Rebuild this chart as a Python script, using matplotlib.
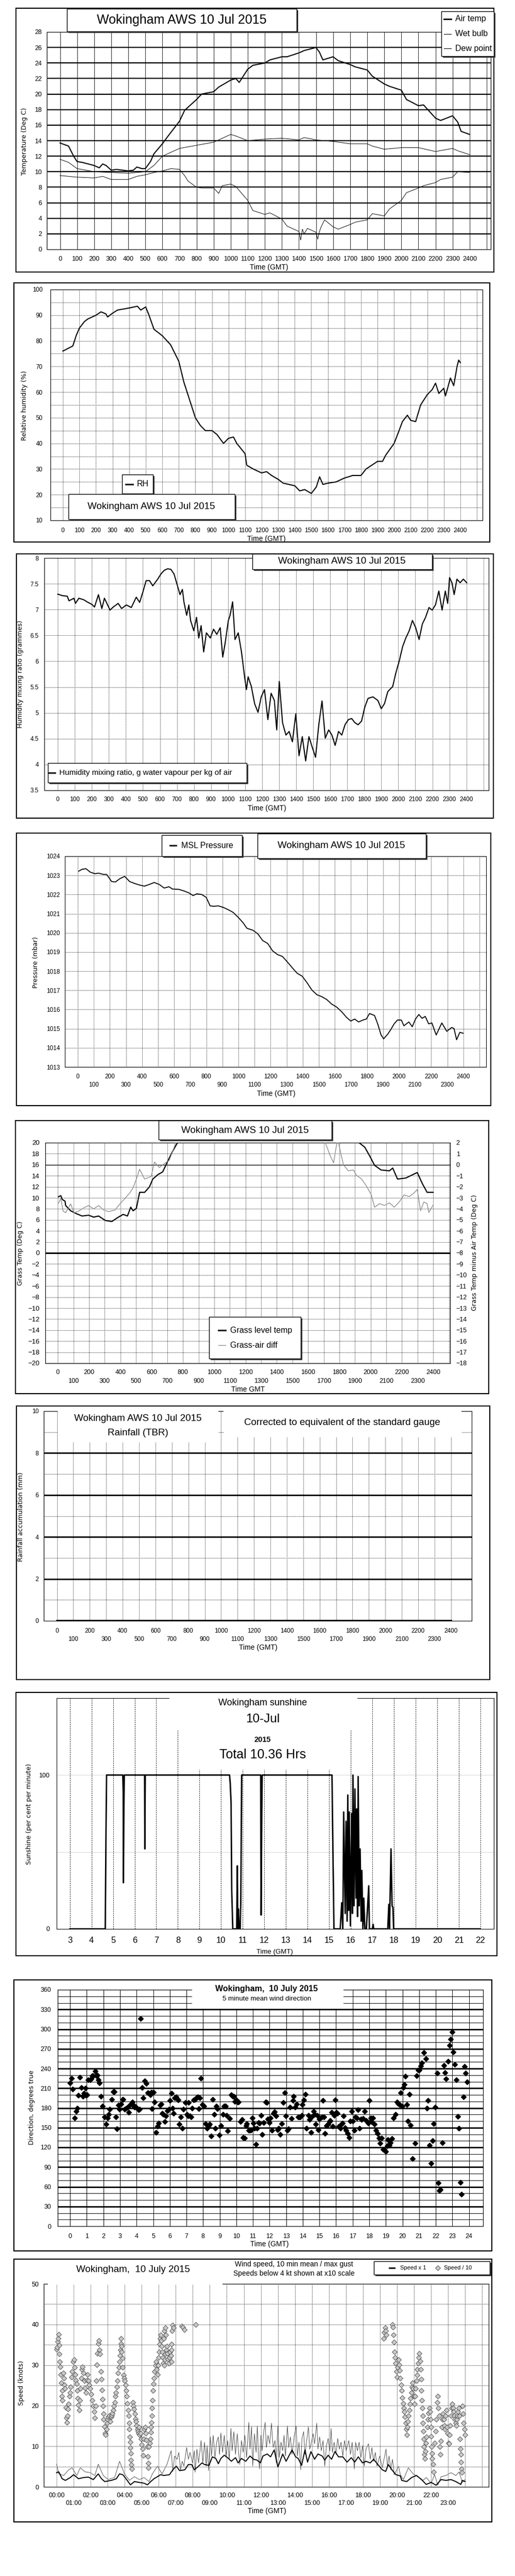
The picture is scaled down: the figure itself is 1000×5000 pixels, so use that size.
import numpy as np
import matplotlib
matplotlib.use("Agg")
import matplotlib.pyplot as plt
from matplotlib.patches import Rectangle
from matplotlib.lines import Line2D

plt.rcParams["font.family"] = ["Liberation Sans", "DejaVu Sans"]
plt.rcParams["font.size"] = 9
LABEL_FONT = "DejaVu Sans"
nan = float("nan")

# ---------------------------------------------------------------- data
# panel 1: temperatures (time axis is hhmm-style 0..2400)
air_t = [0, 50, 80, 100, 130, 200, 230, 250, 270, 300, 330, 400, 430, 450, 480, 500, 530, 550, 600, 630,
         700, 730, 800, 830, 900, 930, 1000, 1030, 1050, 1100, 1130, 1200, 1230, 1300, 1330, 1400, 1430,
         1500, 1520, 1540, 1600, 1630, 1700, 1730, 1800, 1830, 1900, 1930, 2000, 2030, 2100, 2130, 2200,
         2230, 2300, 2330, 2350, 2400]
air_temp = [13.7, 13.3, 12.0, 11.3, 11.2, 10.8, 10.5, 11.0, 10.8, 10.2, 10.3, 10.1, 10.2, 10.6, 10.4, 10.4,
            11.3, 12.3, 13.6, 14.5, 16.5, 17.9, 19.3, 20.0, 20.3, 20.9, 21.8, 22.0, 21.5, 23.2, 23.7, 24.0,
            24.4, 24.8, 24.8, 25.3, 25.6, 26.0, 25.4, 24.4, 24.8, 24.3, 23.8, 23.5, 23.1, 22.3, 21.3, 21.0,
            20.5, 19.3, 18.5, 18.6, 16.9, 16.6, 17.2, 16.4, 15.2, 14.8]
wet_t = [0, 50, 100, 200, 300, 400, 500, 550, 600, 700, 800, 900, 1000, 1030, 1100, 1200, 1300, 1400,
         1430, 1500, 1600, 1700, 1800, 1830, 1900, 2000, 2100, 2200, 2300, 2330, 2400]
wet_bulb = [11.6, 11.2, 10.4, 10.0, 9.9, 9.8, 10.0, 10.8, 12.0, 13.0, 13.4, 13.8, 14.8, 14.6, 14.0, 14.2,
            14.3, 14.1, 14.4, 14.1, 13.9, 13.6, 13.6, 13.3, 12.9, 13.1, 13.1, 12.6, 13.0, 12.7, 12.2]
dew_pts = [(0, 9.5), (100, 9.3), (200, 9.2), (250, 9.4), (300, 9.0), (400, 9.0), (450, 9.4), (500, 9.6),
           (550, 9.9), (600, 10.1), (650, 10.4), (700, 10.3), (730, 9.5), (750, 8.8), (800, 8.0), (830, 7.9),
           (900, 7.9), (930, 7.2), (950, 8.2), (1000, 8.4), (1030, 8.1), (1100, 6.3), (1130, 5.0),
           (1200, 4.5), (1230, 4.7), (1300, 3.9), (1330, 3.0), (1400, 2.3), (1410, 1.2), (1420, 2.6),
           (1430, 2.0), (1450, 2.7), (1500, 2.2), (1510, 1.3), (1520, 2.3), (1530, 2.9), (1550, 3.8),
           (1600, 2.9), (1630, 2.6), (1700, 3.2), (1730, 3.5), (1800, 3.8), (1830, 4.6), (1900, 4.3),
           (1930, 5.2), (2000, 6.3), (2030, 7.3), (2100, 7.9), (2130, 8.2), (2200, 8.6), (2230, 9.0),
           (2300, 9.3), (2330, 10.0), (2400, 9.9)]

# panel 2: relative humidity (%)
rh_pts = [(0, 76.0), (30, 77), (60, 78), (80, 82), (100, 85), (130, 87.5), (150, 88.5), (200, 90),
          (230, 91.3), (260, 90.5), (270, 89.3), (300, 90.8), (330, 92), (400, 92.8), (450, 93.5),
          (470, 92), (500, 93.2), (520, 90), (550, 84.5), (600, 82), (650, 78.5), (700, 72), (730, 64),
          (750, 60), (770, 56), (800, 50), (830, 47), (860, 45), (900, 45), (930, 43.5), (970, 40),
          (1000, 42), (1030, 42.5), (1050, 40), (1100, 36), (1110, 31.5), (1150, 30), (1200, 28.5),
          (1230, 29), (1260, 27.5), (1300, 26), (1330, 24.5), (1400, 23.5), (1430, 21.5), (1460, 22),
          (1500, 20.5), (1530, 23), (1550, 27), (1570, 24), (1600, 24.5), (1650, 25), (1700, 26.5),
          (1750, 27.5), (1800, 27.5), (1830, 30), (1900, 33), (1930, 33), (1950, 35.5), (2000, 40),
          (2030, 45), (2050, 48.5), (2080, 51), (2100, 49), (2130, 48.5), (2160, 55), (2200, 59),
          (2230, 61), (2250, 63.5), (2270, 59.5), (2300, 61.5), (2310, 58.5), (2340, 65.5), (2360, 62.5),
          (2380, 70), (2390, 72.5), (2400, 71.5)]

# panel 3: humidity mixing ratio (g/kg)
mr_pts = [(0, 7.30), (27, 7.27), (56, 7.26), (66, 7.17), (95, 7.22), (104, 7.12), (124, 7.22), (153, 7.19),
          (172, 7.15), (201, 7.10), (216, 7.05), (239, 7.29), (259, 7.02), (274, 7.22), (293, 7.09),
          (307, 6.99), (326, 7.05), (355, 7.12), (375, 7.02), (403, 7.09), (432, 7.04), (461, 7.24),
          (481, 7.14), (500, 7.34), (519, 7.56), (539, 7.56), (558, 7.46), (587, 7.59), (606, 7.69),
          (625, 7.76), (645, 7.79), (664, 7.78), (683, 7.69), (703, 7.46), (718, 7.29), (732, 7.39),
          (741, 7.15), (757, 6.89), (770, 7.09), (780, 6.79), (799, 6.59), (815, 6.85), (828, 6.45),
          (842, 6.69), (857, 6.18), (873, 6.55), (896, 6.45), (915, 6.62), (934, 6.52), (954, 6.65),
          (969, 6.08), (983, 6.35), (1002, 6.79), (1012, 6.89), (1027, 7.15), (1041, 6.42), (1060, 6.55),
          (1079, 6.18), (1098, 5.68), (1108, 5.45), (1118, 5.70), (1137, 5.51), (1156, 5.18), (1176, 5.01),
          (1195, 5.31), (1214, 5.45), (1234, 4.87), (1253, 5.38), (1272, 5.24), (1286, 4.67), (1301, 5.61),
          (1320, 4.81), (1340, 4.57), (1359, 4.64), (1378, 4.44), (1398, 4.98), (1417, 4.17), (1436, 4.54),
          (1456, 4.07), (1475, 4.54), (1494, 4.34), (1514, 4.14), (1533, 4.77), (1552, 5.23), (1571, 4.51),
          (1591, 4.67), (1610, 4.57), (1629, 4.37), (1649, 4.64), (1668, 4.57), (1687, 4.77), (1707, 4.87),
          (1726, 4.89), (1745, 4.81), (1764, 4.77), (1784, 4.84), (1803, 5.11), (1822, 5.28), (1851, 5.31),
          (1880, 5.24), (1900, 5.08), (1919, 5.18), (1938, 5.41), (1967, 5.51), (1986, 5.78), (2006, 6.01),
          (2025, 6.28), (2044, 6.45), (2064, 6.59), (2083, 6.79), (2102, 6.65), (2122, 6.42), (2141, 6.72),
          (2160, 6.85), (2180, 7.04), (2199, 6.99), (2218, 7.09), (2238, 7.36), (2257, 6.99), (2276, 7.36),
          (2290, 7.12), (2301, 7.62), (2315, 7.52), (2328, 7.29), (2344, 7.59), (2363, 7.52), (2382, 7.59),
          (2402, 7.52)]

# panel 4: MSL pressure (mbar)
pres_pts = [(6, 1023.22), (27, 1023.32), (51, 1023.35), (78, 1023.17), (108, 1023.09), (129, 1023.12),
            (160, 1023.05), (180, 1023.05), (211, 1022.68), (235, 1022.66), (262, 1022.83), (292, 1022.95),
            (323, 1022.68), (354, 1022.58), (384, 1022.50), (415, 1022.44), (446, 1022.53), (476, 1022.63),
            (507, 1022.53), (538, 1022.34), (568, 1022.41), (589, 1022.29), (630, 1022.27), (661, 1022.19),
            (691, 1022.09), (718, 1021.95), (742, 1022.04), (773, 1022.00), (800, 1021.85), (824, 1021.41),
            (845, 1021.39), (875, 1021.41), (906, 1021.33), (937, 1021.21), (967, 1021.07), (998, 1020.82),
            (1029, 1020.53), (1053, 1020.24), (1090, 1020.14), (1121, 1019.95), (1151, 1019.60),
            (1182, 1019.45), (1213, 1019.06), (1243, 1018.87), (1274, 1018.77), (1305, 1018.48),
            (1335, 1018.18), (1366, 1017.89), (1397, 1017.74), (1427, 1017.40), (1458, 1017.01),
            (1489, 1016.77), (1519, 1016.67), (1550, 1016.52), (1581, 1016.28), (1611, 1016.13),
            (1642, 1015.89), (1673, 1015.59), (1699, 1015.40), (1724, 1015.50), (1748, 1015.35),
            (1775, 1015.45), (1796, 1015.50), (1816, 1015.79), (1847, 1015.69), (1867, 1015.25),
            (1888, 1014.67), (1904, 1014.47), (1929, 1014.71), (1949, 1014.96), (1969, 1015.25),
            (1990, 1015.45), (2014, 1015.45), (2030, 1015.15), (2061, 1015.35), (2082, 1015.10),
            (2102, 1015.50), (2123, 1015.74), (2143, 1015.54), (2163, 1015.64), (2184, 1015.25),
            (2204, 1015.30), (2231, 1014.67), (2266, 1015.30), (2297, 1014.86), (2327, 1015.06),
            (2342, 1015.01), (2358, 1014.42), (2378, 1014.81), (2399, 1014.76)]

# panel 5: grass temperature (left axis) and grass minus air (right axis)
grass_pts = [(4, 10.2), (19, 10.4), (29, 9.7), (46, 9.4), (50, 8.6), (82, 7.65), (113, 7.2), (155, 6.7),
             (197, 6.85), (229, 6.5), (261, 6.7), (303, 5.9), (345, 5.7), (387, 6.5), (418, 7.0), (445, 6.7),
             (466, 8.3), (481, 7.65), (502, 8.1), (523, 11.0), (555, 11.0), (586, 12.0), (607, 13.4),
             (639, 14.2), (670, 14.7), (702, 16.6), (733, 18.4), (765, 20.0), (1300, nan), (1926, 20.0),
             (1962, 19.2), (1994, 17.6), (2025, 15.9), (2067, 15.05), (2120, 14.9), (2141, 15.4),
             (2172, 13.4), (2225, 13.6), (2298, 14.6), (2330, 12.6), (2361, 11.0), (2399, 11.0)]
diff_pts = [(4, -3.5), (19, -3.05), (34, -4.2), (50, -4.35), (82, -3.55), (103, -4.35), (134, -4.2),
            (166, -3.9), (197, -3.7), (229, -4.0), (261, -3.7), (292, -4.1), (324, -4.25), (366, -4.1),
            (397, -3.55), (429, -3.05), (460, -2.55), (481, -2.1), (502, -1.3), (523, -0.4), (555, -1.3),
            (597, -1.05), (618, 0.25), (649, -0.25), (681, 0.1), (712, 0.4), (744, 1.6), (754, 2.0),
            (1200, nan), (1710, 2.0), (1742, 0.8), (1763, 0.17), (1784, 2.0), (1790, nan), (1794, 2.0),
            (1826, 0.0), (1857, -0.55), (1889, -0.48), (1910, -0.96), (1941, -1.28), (1973, -1.92),
            (2004, -2.73), (2025, -3.85), (2057, -3.53), (2088, -3.69), (2120, -3.45), (2151, -3.85),
            (2183, -3.37), (2214, -2.73), (2246, -2.89), (2277, -2.56), (2298, -2.24), (2319, -4.17),
            (2340, -3.37), (2361, -3.53), (2372, -4.33), (2399, -3.66)]

# panel 6: rainfall accumulation (mm)
rain_t = [0, 2400]
rain_mm = [0, 0]

# panel 7: sunshine (hours GMT, per cent per minute)
sun_pts = [(3.0, 0), (4.64, 0), (4.67, 58), (4.70, 100), (5.45, 100), (5.47, 89), (5.48, 30), (5.50, 77),
           (5.52, 100), (6.46, 100), (6.47, 52), (6.48, 76), (6.49, 100), (10.39, 100), (10.42, 95),
           (10.46, 82), (10.49, 25), (10.54, 0), (10.72, 0), (10.75, 41), (10.77, 0), (10.80, 13),
           (10.83, 0), (10.88, 0), (10.91, 17), (10.95, 100), (11.83, 100), (11.85, 9), (11.88, 75),
           (11.90, 100), (15.13, 100), (15.17, 54), (15.22, 0), (15.51, 0), (15.58, 17), (15.63, 0),
           (15.67, 76), (15.74, 10), (15.78, 70), (15.83, 5), (15.86, 87), (15.90, 12), (15.93, 76),
           (15.98, 2), (16.04, 75), (16.07, 10), (16.10, 100), (16.15, 15), (16.19, 91), (16.24, 20),
           (16.27, 78), (16.31, 8), (16.34, 99), (16.39, 15), (16.43, 52), (16.48, 5), (16.51, 38),
           (16.56, 0), (16.60, 20), (16.65, 0), (16.72, 0), (16.83, 28), (16.86, 0), (17.00, 0), (17.03, 3),
           (17.06, 0), (17.71, 0), (17.76, 16), (17.79, 0), (17.86, 52), (17.91, 15), (17.95, 14),
           (17.98, 0), (21.97, 0)]

# panel 8: 5 minute mean wind direction (hours GMT, degrees)
dir_pts = [(0.00, 218), (0.10, 225), (0.16, 209), (0.26, 165), (0.38, 175), (0.42, 180), (0.49, 199),
           (0.59, 227), (0.67, 211), (0.77, 198), (0.83, 202), (0.91, 210), (0.97, 199), (1.03, 200),
           (1.09, 223), (1.19, 223), (1.26, 224), (1.32, 229), (1.40, 229), (1.50, 236), (1.56, 229),
           (1.64, 230), (1.70, 223), (1.76, 218), (1.86, 198), (1.96, 183), (2.08, 166), (2.15, 155),
           (2.25, 165), (2.31, 170), (2.39, 178), (2.49, 193), (2.59, 205), (2.67, 205), (2.75, 166),
           (2.81, 148), (2.90, 184), (2.98, 178), (3.06, 186), (3.16, 193), (3.20, 193), (3.28, 178),
           (3.38, 180), (3.46, 181), (3.52, 173), (3.62, 185), (3.70, 186), (3.75, 189), (3.81, 184),
           (3.87, 181), (3.93, 182), (4.01, 180), (4.11, 177), (4.17, 178), (4.25, 316), (4.33, 211),
           (4.39, 195), (4.49, 221), (4.57, 217), (4.66, 203), (4.74, 202), (4.82, 200), (4.88, 204),
           (4.92, 179), (5.00, 204), (5.08, 189), (5.16, 143), (5.26, 152), (5.34, 157), (5.43, 184),
           (5.49, 186), (5.55, 172), (5.61, 170), (5.69, 159), (5.77, 168), (5.85, 176), (5.93, 178),
           (6.01, 191), (6.09, 202), (6.15, 180), (6.23, 172), (6.30, 195), (6.38, 197), (6.46, 193),
           (6.50, 192), (6.56, 155), (6.66, 166), (6.74, 149), (6.82, 178), (6.94, 188), (7.02, 170),
           (7.08, 168), (7.13, 188), (7.21, 168), (7.27, 166), (7.35, 180), (7.43, 192), (7.51, 193),
           (7.59, 195), (7.67, 197), (7.75, 179), (7.79, 195), (7.87, 225), (7.96, 185), (8.04, 183),
           (8.14, 156), (8.24, 149), (8.32, 153), (8.38, 155), (8.48, 137), (8.58, 193), (8.66, 170),
           (8.74, 149), (8.81, 183), (8.87, 179), (8.99, 139), (9.07, 153), (9.19, 170), (9.27, 183),
           (9.31, 183), (9.35, 183), (9.43, 169), (9.49, 145), (9.60, 164), (9.68, 200), (9.78, 198),
           (9.86, 198), (9.92, 190), (10.00, 192), (10.06, 189), (10.14, 189), (10.26, 159), (10.34, 162),
           (10.42, 135), (10.51, 134), (10.59, 153), (10.63, 156), (10.75, 146), (10.83, 146), (10.89, 147),
           (10.97, 165), (11.03, 157), (11.09, 149), (11.17, 125), (11.25, 149), (11.34, 158), (11.40, 157),
           (11.48, 169), (11.56, 140), (11.66, 158), (11.76, 189), (11.82, 188), (11.90, 163), (11.98, 158),
           (12.06, 165), (12.13, 146), (12.23, 172), (12.31, 174), (12.39, 168), (12.49, 147), (12.55, 149),
           (12.63, 140), (12.73, 156), (12.83, 188), (12.91, 203), (12.98, 168), (13.06, 146), (13.14, 148),
           (13.24, 181), (13.32, 164), (13.40, 191), (13.46, 198), (13.54, 181), (13.64, 186), (13.72, 166),
           (13.79, 166), (13.85, 166), (13.93, 169), (13.97, 185), (14.07, 192), (14.15, 201), (14.23, 149),
           (14.33, 169), (14.41, 162), (14.49, 143), (14.57, 167), (14.64, 175), (14.70, 170), (14.78, 155),
           (14.86, 169), (14.92, 147), (15.00, 163), (15.06, 165), (15.14, 166), (15.20, 191), (15.26, 166),
           (15.34, 141), (15.42, 153), (15.47, 154), (15.53, 155), (15.61, 159), (15.65, 161), (15.75, 173),
           (15.81, 152), (15.89, 169), (15.97, 192), (16.03, 173), (16.09, 172), (16.17, 152), (16.25, 149),
           (16.32, 155), (16.40, 157), (16.46, 168), (16.54, 150), (16.62, 146), (16.70, 141), (16.78, 135),
           (16.84, 160), (16.94, 175), (17.02, 160), (17.09, 146), (17.17, 166), (17.25, 165), (17.33, 177),
           (17.41, 149), (17.49, 163), (17.55, 162), (17.63, 164), (17.73, 175), (17.81, 161), (17.89, 159),
           (17.94, 157), (18.00, 191), (18.08, 165), (18.14, 159), (18.22, 165), (18.32, 155), (18.40, 146),
           (18.50, 141), (18.58, 134), (18.66, 126), (18.75, 134), (18.83, 117), (18.91, 117), (18.99, 114),
           (19.07, 122), (19.13, 132), (19.21, 123), (19.27, 127), (19.37, 133), (19.47, 165), (19.57, 170),
           (19.66, 189), (19.74, 187), (19.82, 185), (19.90, 203), (19.98, 183), (20.04, 211), (20.12, 216),
           (20.18, 228), (20.26, 185), (20.34, 160), (20.42, 201), (20.49, 154), (20.59, 103), (20.75, 126),
           (20.85, 229), (20.93, 238), (21.01, 238), (21.09, 244), (21.17, 249), (21.28, 264), (21.40, 255),
           (21.52, 191), (21.48, 180), (21.62, 123), (21.72, 96), (21.80, 130), (21.88, 156), (21.96, 181),
           (22.08, 233), (22.15, 66), (22.23, 54), (22.29, 56), (22.39, 127), (22.49, 245), (22.55, 234),
           (22.63, 224), (22.75, 251), (22.83, 275), (22.91, 285), (22.98, 296), (23.06, 265), (23.14, 246),
           (23.24, 223), (23.32, 167), (23.40, 149), (23.50, 67), (23.56, 49), (23.66, 197), (23.74, 243),
           (23.81, 233), (23.89, 220)]

# panel 9: wind speed (hours GMT, knots)
mean_pts = [(0, 3.5), (0.13, 3.7), (0.33, 2.0), (0.52, 1.6), (0.81, 2.3), (1.00, 3.0), (1.29, 2.0),
            (1.58, 2.3), (1.87, 2.4), (2.16, 1.8), (2.45, 3.2), (2.64, 2.0), (2.83, 1.3), (3.22, 1.6),
            (3.51, 2.0), (3.70, 3.2), (3.89, 3.0), (4.08, 2.0), (4.34, 0.5), (4.57, 1.3), (4.86, 1.1),
            (5.14, 0.9), (5.34, 0.5), (5.53, 1.3), (5.72, 2.0), (5.92, 2.5), (6.11, 3.0), (6.30, 2.8),
            (6.63, 3.0), (6.83, 4.2), (7.03, 5.1), (7.23, 4.0), (7.53, 4.2), (7.74, 5.5), (7.94, 5.5),
            (8.09, 4.2), (8.29, 4.9), (8.54, 5.9), (8.69, 5.5), (8.95, 5.3), (9.15, 7.4), (9.35, 7.0),
            (9.50, 5.7), (9.65, 7.0), (9.85, 7.8), (10.10, 7.0), (10.26, 6.3), (10.51, 7.2), (10.66, 5.9),
            (10.86, 7.0), (11.11, 6.3), (11.36, 7.6), (11.57, 6.8), (11.77, 6.6), (11.97, 5.9), (12.12, 7.6),
            (12.37, 8.1), (12.57, 7.4), (12.78, 9.1), (13.00, 4.9), (13.28, 8.1), (13.48, 6.3), (13.83, 9.1),
            (14.04, 7.4), (14.19, 7.0), (14.39, 5.3), (14.59, 9.1), (14.74, 6.1), (14.94, 8.7), (15.15, 6.8),
            (15.35, 8.1), (15.60, 7.6), (15.75, 6.6), (15.95, 7.8), (16.15, 6.8), (16.35, 8.7), (16.56, 7.4),
            (16.81, 7.4), (17.06, 6.1), (17.31, 7.2), (17.51, 6.1), (17.72, 7.4), (17.97, 5.9), (18.17, 6.3),
            (18.42, 5.9), (18.62, 6.8), (18.87, 5.5), (19.13, 4.2), (19.33, 3.8), (19.48, 5.5), (19.73, 4.0),
            (19.93, 3.0), (20.19, 2.7), (20.27, 1.6), (20.56, 1.3), (20.85, 2.3), (21.14, 2.8), (21.43, 1.8),
            (21.71, 0.6), (22.00, 1.1), (22.29, 0.4), (22.58, 1.8), (22.87, 1.6), (23.16, 1.8), (23.45, 1.3),
            (23.74, 0.6), (23.83, 1.6), (23.99, 1.3)]
gust_pts = [(0, 5.6), (0.13, 3.2), (0.42, 2.8), (0.71, 4.2), (0.91, 4.7), (1.19, 2.8), (1.39, 4.7), (1.68, 3.7),
            (1.97, 3.5), (2.25, 2.8), (2.45, 5.6), (2.74, 2.8), (3.03, 1.8), (3.41, 2.3), (3.70, 6.3),
            (3.99, 3.2), (4.28, 1.6), (4.57, 2.5), (4.86, 1.8), (5.14, 2.3), (5.43, 1.3), (5.63, 3.2),
            (5.92, 5.1), (6.20, 3.2), (6.49, 5.6),
            (6.73, 8.9), (6.83, 3.8), (6.93, 7.6), (7.08, 6.8), (7.18, 8.5), (7.28, 4.2), (7.38, 6.3),
            (7.48, 5.1), (7.64, 9.7), (7.74, 6.8), (7.84, 8.5), (7.99, 5.9), (8.09, 8.9), (8.14, 3.6),
            (8.24, 9.3), (8.34, 5.9), (8.49, 11.4), (8.59, 5.9), (8.69, 11.0), (8.79, 5.1), (8.84, 10.2),
            (8.93, 4.0), (9.03, 12.3), (9.10, 7.6), (9.20, 12.7), (9.30, 7.2), (9.40, 11.0), (9.50, 12.3),
            (9.57, 8.0), (9.65, 13.3), (9.75, 8.5), (9.85, 12.7), (9.95, 7.6), (10.05, 11.4), (10.14, 6.8),
            (10.24, 14.4), (10.31, 8.9), (10.41, 13.6), (10.51, 8.0), (10.61, 13.1), (10.71, 7.6),
            (10.76, 5.5), (10.86, 11.4), (10.96, 8.5), (11.06, 12.7), (11.16, 7.2), (11.29, 15.9),
            (11.36, 9.3), (11.45, 14.8), (11.52, 5.1), (11.62, 13.1), (11.72, 8.5), (11.79, 15.0),
            (11.87, 6.8), (11.92, 4.4), (12.00, 12.7), (12.07, 8.9), (12.17, 13.6), (12.25, 15.9),
            (12.32, 9.7), (12.42, 12.7), (12.52, 10.6), (12.62, 15.7), (12.72, 9.7), (12.83, 11.4),
            (12.90, 5.9), (13.00, 15.0), (13.08, 7.2), (13.18, 11.0), (13.28, 8.9), (13.36, 12.7),
            (13.44, 7.6), (13.56, 15.0), (13.63, 9.7), (13.73, 12.3), (13.83, 8.0), (13.94, 11.9),
            (14.07, 15.0), (14.14, 7.6), (14.24, 11.0), (14.34, 4.2), (14.41, 11.9), (14.51, 13.6),
            (14.59, 8.0), (14.69, 11.4), (14.79, 14.8), (14.87, 9.3), (14.97, 11.0), (15.07, 13.1),
            (15.15, 10.6), (15.28, 15.7), (15.35, 9.3), (15.45, 12.3), (15.55, 8.9), (15.65, 11.4),
            (15.75, 5.1), (15.85, 10.2), (15.95, 11.9), (16.05, 8.9), (16.12, 14.4), (16.20, 8.5),
            (16.30, 11.0), (16.41, 8.0), (16.51, 11.9), (16.61, 9.3), (16.71, 11.0), (16.81, 7.6),
            (16.91, 11.4), (17.01, 8.9), (17.16, 11.4), (17.26, 8.0), (17.36, 11.0), (17.49, 4.4),
            (17.56, 11.0), (17.67, 8.9), (17.77, 11.0), (17.87, 7.2), (17.97, 10.2), (18.07, 5.1),
            (18.17, 9.3), (18.32, 10.6), (18.42, 6.8), (18.52, 9.7), (18.62, 6.3), (18.72, 8.5),
            (18.82, 5.1), (18.98, 7.6), (19.13, 4.7), (19.35, 9.3), (19.43, 5.1), (19.53, 7.6), (19.63, 4.2),
            (19.73, 6.8), (19.83, 3.0), (19.93, 3.8), (20.08, 5.1), (20.19, 3.0),
            (20.37, 1.8), (20.66, 4.7), (20.94, 3.2), (21.23, 2.5), (21.52, 1.6), (21.71, 2.3), (22.00, 0.9),
            (22.20, 3.0), (22.39, 0.4), (22.58, 2.5), (22.87, 2.8), (23.16, 3.5), (23.45, 2.8), (23.64, 3.7),
            (23.83, 1.1), (23.99, 1.8)]
# speeds below 4 kt, plotted at x10 scale
low_pts = [(0.00, 33.9), (0.04, 34.4), (0.08, 35.8), (0.10, 36.5), (0.12, 37.6), (0.15, 34.9), (0.17, 32.8),
           (0.19, 30.8), (0.21, 29.6), (0.25, 27.7), (0.27, 25.6), (0.31, 22.3), (0.33, 23.7), (0.35, 21.3),
           (0.39, 28.0), (0.42, 26.8), (0.46, 25.1), (0.50, 24.2), (0.54, 19.6), (0.58, 17.0), (0.60, 15.8),
           (0.64, 17.5), (0.67, 19.2), (0.71, 20.4), (0.75, 22.3), (0.79, 23.2), (0.83, 24.6), (0.87, 27.0),
           (0.91, 28.4), (0.96, 30.8), (1.02, 31.3), (1.06, 29.4), (1.10, 27.7), (1.14, 26.3), (1.18, 25.4),
           (1.21, 23.7), (1.25, 21.8), (1.29, 20.2), (1.33, 18.9), (1.37, 21.3), (1.41, 24.2), (1.45, 26.8),
           (1.48, 28.9), (1.52, 29.6), (1.58, 28.0), (1.64, 26.1), (1.68, 24.4), (1.73, 23.2), (1.79, 26.3),
           (1.83, 27.7), (1.87, 26.1), (1.91, 25.1), (1.97, 24.2), (2.02, 22.9), (2.08, 21.3), (2.14, 19.9),
           (2.20, 18.5), (2.24, 17.0), (2.29, 19.9), (2.33, 26.1), (2.37, 30.1), (2.41, 32.9), (2.45, 35.3),
           (2.49, 36.1), (2.52, 33.7), (2.56, 32.8), (2.60, 28.4), (2.64, 26.5), (2.66, 23.9), (2.70, 21.6),
           (2.72, 19.9), (2.76, 18.0), (2.77, 16.6), (2.81, 14.9), (2.85, 13.2), (2.89, 12.8), (2.93, 14.2),
           (2.97, 15.7), (3.01, 16.6), (3.04, 17.3), (3.08, 17.5), (3.14, 16.1), (3.20, 17.3), (3.24, 17.7),
           (3.28, 18.2), (3.33, 18.9), (3.37, 19.9), (3.41, 20.8), (3.45, 22.3), (3.49, 23.2), (3.53, 24.6),
           (3.56, 26.1), (3.62, 28.0), (3.66, 29.4), (3.70, 30.8), (3.74, 32.3), (3.76, 33.7), (3.78, 35.3),
           (3.80, 36.5), (3.82, 34.6), (3.83, 33.2), (3.87, 31.7), (3.89, 29.4), (3.93, 27.5), (3.97, 26.8),
           (4.01, 26.1), (4.05, 25.1), (4.08, 23.7), (4.12, 22.3), (4.16, 20.6), (4.20, 18.9), (4.24, 17.5),
           (4.26, 15.7), (4.28, 14.2), (4.30, 12.3), (4.32, 11.1), (4.34, 9.7), (4.35, 8.2), (4.37, 6.6),
           (4.39, 5.4), (4.41, 4.4),
           (4.47, 20.8), (4.51, 19.9), (4.55, 19.2), (4.59, 18.0), (4.62, 16.8), (4.66, 16.1), (4.70, 15.1),
           (4.74, 14.2), (4.78, 13.7), (4.82, 13.2), (4.86, 14.7), (4.89, 12.8), (4.93, 13.2), (4.97, 11.8),
           (5.01, 10.4), (5.05, 9.4), (5.09, 7.8), (5.13, 11.8), (5.16, 14.2), (5.20, 14.7), (5.24, 13.2),
           (5.28, 11.6), (5.32, 9.9), (5.36, 7.5), (5.38, 5.9), (5.39, 4.7), (5.43, 9.9), (5.47, 10.8),
           (5.51, 11.8), (5.53, 13.5), (5.55, 14.7), (5.57, 15.8), (5.59, 17.5), (5.61, 19.4), (5.63, 21.3),
           (5.65, 23.7), (5.68, 25.4), (5.72, 26.8), (5.76, 28.4), (5.80, 29.9), (5.84, 30.8), (5.88, 28.9),
           (5.92, 27.7), (5.95, 29.9), (5.99, 31.8), (6.03, 33.2), (6.05, 35.1), (6.07, 36.5), (6.11, 37.5),
           (6.15, 36.1), (6.18, 34.6), (6.20, 33.2), (6.24, 31.8), (6.28, 30.4), (6.32, 29.9), (6.36, 31.3),
           (6.40, 32.8), (6.44, 33.7), (6.30, 36.5), (6.34, 38.4), (6.38, 39.2), (6.42, 37.5), (6.47, 34.6),
           (6.51, 32.9), (6.55, 31.5), (6.59, 30.4), (6.63, 31.8), (6.67, 33.2), (6.71, 32.3), (6.74, 30.8),
           (6.76, 33.7), (6.78, 38.4), (6.82, 39.9), (6.86, 39.2), (6.76, 35.1),
           (7.36, 39.6), (7.42, 39.4), (7.51, 38.7), (8.17, 40.0),
           (19.21, 36.5), (19.25, 38.1), (19.29, 39.2), (19.33, 38.4), (19.36, 37.5), (19.71, 40.0),
           (19.75, 39.4), (19.79, 37.5), (19.83, 35.6), (19.85, 33.2), (19.88, 31.8), (19.92, 30.4),
           (19.96, 28.4), (20.00, 27.0), (20.04, 29.4), (20.08, 31.3), (20.12, 30.1), (20.15, 28.7),
           (20.19, 26.8), (20.23, 25.1), (20.27, 23.7), (20.31, 22.0), (20.35, 20.6), (20.39, 19.4),
           (20.42, 18.5), (20.46, 17.3), (20.50, 15.7), (20.54, 14.2), (20.56, 12.8), (20.60, 14.7),
           (20.64, 16.1), (20.67, 17.5), (20.71, 18.9), (20.75, 20.4), (20.79, 21.8), (20.83, 23.2),
           (20.87, 24.6), (20.91, 25.6), (20.94, 24.2), (20.98, 22.3), (21.02, 20.4), (21.06, 22.3),
           (21.10, 24.2), (21.14, 26.1), (21.18, 27.5), (21.19, 28.9), (21.23, 30.4), (21.27, 31.8),
           (21.31, 32.9), (21.35, 31.0), (21.39, 28.9), (21.41, 26.5), (21.43, 23.7), (21.45, 21.3),
           (21.48, 19.4), (21.50, 17.5), (21.52, 15.7), (21.54, 13.7), (21.56, 11.8), (21.58, 9.9),
           (21.60, 8.0), (21.62, 7.0), (21.66, 8.7), (21.70, 10.8), (21.73, 12.3), (21.77, 14.7),
           (21.81, 16.6), (21.85, 18.2), (21.89, 19.4), (21.93, 18.5), (21.97, 16.6), (21.99, 14.7),
           (22.00, 12.5), (22.02, 9.9), (22.04, 8.2), (22.06, 7.0), (22.10, 5.6), (22.14, 3.7), (22.20, 10.8),
           (22.25, 13.7), (22.31, 16.6), (22.35, 20.8), (22.39, 22.3), (22.43, 19.4), (22.47, 17.5),
           (22.50, 9.9), (22.54, 8.0), (22.58, 11.3), (22.62, 14.7), (22.66, 16.6), (22.70, 18.0),
           (22.74, 16.6), (22.77, 15.1), (22.81, 14.2), (22.85, 17.5), (22.89, 18.9), (22.93, 14.7),
           (22.97, 13.2), (23.01, 10.8), (23.04, 10.6), (23.08, 12.8), (23.12, 15.1), (23.16, 17.5),
           (23.20, 19.4), (23.24, 20.4), (23.28, 19.4), (23.31, 18.5), (23.35, 17.5), (23.39, 16.6),
           (23.43, 15.7), (23.47, 15.1), (23.51, 16.6), (23.55, 17.5), (23.58, 18.5), (23.62, 19.4),
           (23.66, 17.5), (23.70, 11.8), (23.72, 9.4), (23.74, 8.0), (23.76, 6.1), (23.78, 4.4), (23.80, 3.5),
           (23.83, 19.9), (23.87, 18.0), (23.91, 15.7), (23.95, 14.2), (23.99, 12.8)]

TITLE = "Wokingham AWS 10 Jul 2015"


def split(pts):
    a = np.array(pts, dtype=float)
    return a[:, 0], a[:, 1]


# ------------------------------------------------------------- helpers
# all layout numbers are pixels, y measured from the top of the 1000x5000 image
W, H = 1000, 5000
fig = plt.figure(figsize=(W / 100, H / 100), dpi=100)


def axes_at(x0, y0, x1, y1):
    return fig.add_axes([x0 / W, 1 - y1 / H, (x1 - x0) / W, (y1 - y0) / H])


def rect(x0, y0, x1, y1, fc="none", ec="black", lw=1.0, z=5):
    fig.add_artist(Rectangle((x0 / W, 1 - y1 / H), (x1 - x0) / W, (y1 - y0) / H,
                             transform=fig.transFigure, fc=fc, ec=ec, lw=lw, zorder=z))


def shadow_box(x0, y0, x1, y1):
    rect(x0 + 3, y0 + 3, x1 + 3, y1 + 3, fc="#404040", ec="none", z=6)
    rect(x0, y0, x1, y1, fc="white", ec="black", lw=1.0, z=7)


def white(x0, y0, x1, y1):
    rect(x0, y0, x1, y1, fc="white", ec="none", z=6)


def text(x, y, s, size=9, ha="center", **kw):
    fig.text(x / W, 1 - y / H, s, fontsize=size, ha=ha, va="center", zorder=9, **kw)


def ylab(x, y, s, size=9):
    text(x, y, s, size=size, rotation=90, family=LABEL_FONT)


def key_line(x0, x1, y, **kw):
    fig.add_artist(Line2D([x0 / W, x1 / W], [1 - y / H] * 2, transform=fig.transFigure, zorder=9, **kw))


def hgrid(ax, vals, **kw):
    for v in vals:
        ax.axhline(v, zorder=1, **kw)


def vgrid(ax, vals, **kw):
    for v in vals:
        ax.axvline(v, zorder=1, **kw)


def two_rows(ax, top, bottom, pad, gap=16, size=8.5, fmt=str):
    ax.set_xticks(list(top))
    ax.set_xticklabels([fmt(v) for v in top])
    ax.set_xticks(list(bottom), minor=True)
    ax.set_xticklabels([fmt(v) for v in bottom], minor=True)
    ax.tick_params(axis="x", which="major", pad=pad, labelsize=size, length=0)
    ax.tick_params(axis="x", which="minor", pad=pad + gap * 0.72, labelsize=size, length=0)


DOT = dict(color="black", lw=0.7, ls=(0, (1, 1.5)))
HOURS100 = range(0, 2501, 100)

# ------------------------------------------------------------ panel 1
rect(31, 16, 959, 528, lw=1.5)
ax = axes_at(91, 62, 953, 484)
ax.set_xlim(-77, 2524)
ax.set_ylim(0, 28)
hgrid(ax, range(2, 27, 2), color="black", lw=1.6)
vgrid(ax, HOURS100, color="black", lw=0.6)
dew_t, dew_v = split(dew_pts)
ax.plot(air_t, air_temp, color="black", lw=1.5, zorder=3)
ax.plot(wet_t, wet_bulb, color="black", lw=0.7, zorder=3)
ax.plot(dew_t, dew_v, color="black", lw=0.7, zorder=3)
ax.set_xticks(range(0, 2401, 100))
ax.set_yticks(range(0, 29, 2))
ax.tick_params(length=0, labelsize=9)
ax.tick_params(axis="y", pad=7)
ax.tick_params(axis="x", pad=9)
shadow_box(130, 17, 576, 61)
text(353, 39, TITLE, size=18)
shadow_box(857, 22, 959, 109)
for yy, lbl, lw in [(37, "Air temp", 2.0), (66, "Wet bulb", 0.8), (94, "Dew point", 0.8)]:
    key_line(862, 876, yy, color="black", lw=lw)
    text(884, yy, lbl, size=11.5, ha="left")
ylab(48, 274, "Temperature (Deg C)")
text(522, 519, "Time (GMT)", size=10)

# ------------------------------------------------------------ panel 2
rect(27, 549, 951, 1052, lw=1.5)
ax = axes_at(98, 562, 937, 1010)
ax.set_xlim(-75, 2534)
ax.set_ylim(10, 100)
hgrid(ax, range(15, 100, 5), **DOT)
vgrid(ax, HOURS100, **DOT)
rh_t, rh_v = split(rh_pts)
ax.plot(rh_t, rh_v, color="black", lw=1.5, zorder=3)
ax.set_xticks(range(0, 2401, 100))
ax.set_yticks(range(10, 101, 10))
ax.tick_params(length=0, labelsize=8.5)
ax.tick_params(axis="y", pad=11)
ax.tick_params(axis="x", pad=10)
shadow_box(237, 921, 297, 958)
key_line(244, 258, 940, color="black", lw=2.0)
text(266, 940, "RH", size=11.5, ha="left")
shadow_box(133, 959, 456, 1008)
text(294, 983, TITLE, size=13.5)
ylab(48, 787, "Relative humidity (%)")
text(517, 1046, "Time (GMT)", size=10)

# ------------------------------------------------------------ panel 3
rect(32, 1075, 958, 1588, lw=1.5)
ax = axes_at(86, 1083, 949, 1534)
ax.set_xlim(-79, 2531)
ax.set_ylim(3.5, 8)
hgrid(ax, np.arange(4, 8, 0.5), **DOT)
vgrid(ax, HOURS100, **DOT)
mr_t, mr_v = split(mr_pts)
ax.plot(mr_t, mr_v, color="black", lw=1.5, zorder=3)
yt = np.arange(3.5, 8.01, 0.5)
ax.set_yticks(yt)
ax.set_yticklabels([f"{v:g}" for v in yt])
ax.set_xticks(range(0, 2401, 100))
ax.tick_params(length=0, labelsize=8.5)
ax.tick_params(axis="y", pad=8)
ax.tick_params(axis="x", pad=8.5)
shadow_box(490, 1075, 839, 1105)
text(664, 1090, TITLE, size=13.5)
shadow_box(93, 1481, 479, 1519)
key_line(95, 107, 1500, color="black", lw=2.0)
text(115, 1500, "Humidity mixing ratio, g water vapour per kg of air", size=11, ha="left")
ylab(40, 1308, "Humidity mixing ratio (grammes)")
text(518, 1569, "Time (GMT)", size=10)

# ------------------------------------------------------------ panel 4
rect(32, 1617, 953, 2146, lw=1.5)
ax = axes_at(126, 1662, 944, 2071)
ax.set_xlim(-80, 2542)
ax.set_ylim(1013, 1024)
hgrid(ax, range(1014, 1024), **DOT)
vgrid(ax, HOURS100, **DOT)
p_t, p_v = split(pres_pts)
ax.plot(p_t, p_v, color="black", lw=1.3, zorder=3)
ax.set_yticks(range(1013, 1025))
ax.tick_params(axis="y", length=0, labelsize=8.5, pad=7)
two_rows(ax, range(0, 2401, 200), range(100, 2400, 200), pad=9.5)
shadow_box(314, 1621, 470, 1662)
key_line(330, 342, 1641, color="black", lw=2.0)
text(352, 1641, "MSL Pressure", size=11.5, ha="left")
shadow_box(500, 1618, 827, 1666)
text(663, 1642, TITLE, size=13.5)
ylab(70, 1868, "Pressure (mbar)")
text(536, 2123, "Time (GMT)", size=10)

# ------------------------------------------------------------ panel 5
rect(30, 2175, 949, 2705, lw=1.5)
ax = axes_at(88, 2218, 874, 2646)
ax.set_xlim(-80, 2508)
ax.set_ylim(-20, 20)
hgrid(ax, [v for v in range(-18, 20, 2) if v not in (0, 16)], **DOT)
vgrid(ax, HOURS100, **DOT)
ax.axhline(16, color="black", lw=1.0, zorder=2)
ax.axhline(0, color="black", lw=2.2, zorder=2)
g_t, g_v = split(grass_pts)
ax.plot(g_t, g_v, color="black", lw=1.6, zorder=4)
ax.set_yticks(range(-20, 21, 2))
ax.tick_params(axis="y", length=0, labelsize=9.5, pad=8)
two_rows(ax, range(0, 2401, 200), range(100, 2400, 200), pad=8.5, gap=17, size=9)
axr = ax.twinx()
axr.set_ylim(-18, 2)
d_t, d_v = split(diff_pts)
axr.plot(d_t, d_v, color="#8c8c8c", lw=1.0, zorder=3)
axr.set_yticks(range(-18, 3))
axr.tick_params(axis="y", length=0, labelsize=9, pad=8.5)
shadow_box(308, 2175, 644, 2212)
text(476, 2194, TITLE, size=13.5)
shadow_box(406, 2556, 584, 2637)
key_line(424, 438, 2582, color="black", lw=2.0)
text(447, 2582, "Grass level temp", size=11.5, ha="left")
key_line(424, 438, 2611, color="#8c8c8c", lw=1.0)
text(447, 2611, "Grass-air diff", size=11.5, ha="left")
ylab(40, 2433, "Grass Temp (Deg C)")
ylab(922, 2431, "Grass Temp minus Air Temp (Deg C)")
text(482, 2697, "Time GMT", size=10)

# ------------------------------------------------------------ panel 6
rect(32, 2729, 951, 3260, lw=1.5)
ax = axes_at(85, 2739, 916, 3146)
ax.set_xlim(-80, 2526)
ax.set_ylim(0, 10)
hgrid(ax, [2, 4, 6, 8], color="black", lw=2.0)
hgrid(ax, [1, 3, 5, 7, 9], **DOT)
vgrid(ax, range(0, 2401, 100), **DOT)
ax.plot(rain_t, rain_mm, color="black", lw=2.6, zorder=4)
ax.set_yticks(range(0, 11, 2))
ax.tick_params(axis="y", length=0, labelsize=8.5, pad=7)
two_rows(ax, range(0, 2401, 200), range(100, 2400, 200), pad=10)
white(112, 2736, 424, 2799)
white(434, 2736, 896, 2789)
text(268, 2753, TITLE, size=13.5)
text(268, 2781, "Rainfall (TBR)", size=13.5)
text(664, 2762, "Corrected to equivalent of the standard gauge", size=13.5)
ylab(41, 2944, "Rainfall accumulation (mm)")
text(501, 3198, "Time (GMT)", size=10)

# ------------------------------------------------------------ panel 7
rect(31, 3285, 965, 3796, lw=1.5)
ax = axes_at(110, 3296, 959, 3744)
ax.set_xlim(2.39, 22.62)
ax.set_ylim(0, 150)
hgrid(ax, [50, 100], color="#a0a0a0", lw=0.8, ls=(0, (1, 1.5)))
vgrid(ax, range(3, 23), color="black", lw=0.6, ls=(0, (3, 2)))
s_t, s_v = split(sun_pts)
ax.plot(s_t, s_v, color="black", lw=2.0, zorder=4)
ax.set_xticks(range(3, 23))
ax.set_yticks([0, 50, 100])
ax.set_yticklabels(["0", "", "100"])
ax.tick_params(axis="x", length=0, labelsize=12, pad=11)
ax.tick_params(axis="y", length=0, labelsize=9, pad=10)
white(329, 3294, 694, 3359)
white(357, 3294, 664, 3435)
text(510, 3305, "Wokingham sunshine", size=13)
text(510, 3337, "10-Jul", size=17.5)
text(510, 3377, "2015", size=10.5, weight="bold")
text(510, 3406, "Total 10.36 Hrs", size=18)
ylab(57, 3521, "Sunshine (per cent per minute)")
text(533, 3789, "Time (GMT)", size=9.5)

# ------------------------------------------------------------ panel 8
rect(27, 3843, 955, 4369, lw=1.5)
ax = axes_at(112, 3862, 938, 4321)
ax.set_xlim(-0.75, 24.85)
ax.set_ylim(0, 360)
hgrid(ax, [v for v in range(10, 360, 10) if v % 30], color="black", lw=0.7)
hgrid(ax, range(30, 360, 30), color="black", lw=2.0)
vgrid(ax, range(0, 25), color="black", lw=0.7)
dr_t, dr_v = split(dir_pts)
ax.plot(dr_t, dr_v, ls="none", marker="D", ms=5, color="black", zorder=4)
ax.set_xticks(range(0, 25))
ax.set_yticks(range(0, 361, 30))
ax.tick_params(length=0, labelsize=9)
ax.tick_params(axis="y", pad=9)
ax.tick_params(axis="x", pad=10)
white(373, 3860, 667, 3899)
text(518, 3861, "Wokingham,  10 July 2015", size=11.5, weight="bold")
text(518, 3880, "5 minute mean wind direction", size=9.5)
ylab(61, 4091, "Direction, degrees true")
text(523, 4356, "Time (GMT)", size=10)

# ------------------------------------------------------------ panel 9
rect(27, 4385, 955, 4895, lw=1.5)
ax = axes_at(85, 4433, 949, 4827)
ax.set_xlim(-0.75, 25.38)
ax.set_ylim(0, 50)
hgrid(ax, range(5, 50, 5), **DOT)
vgrid(ax, range(0, 26), **DOT)
gs_t, gs_v = split(gust_pts)
mn_t, mn_v = split(mean_pts)
lo_t, lo_v = split(low_pts)
ax.plot(gs_t, gs_v, color="#505050", lw=0.7, zorder=3)
ax.plot(mn_t, mn_v, color="black", lw=1.4, zorder=4)
ax.plot(lo_t, lo_v, ls="none", marker="D", ms=5.5, mfc="#c8c8c8", mec="#404040", mew=0.6, zorder=5)
ax.set_yticks(range(0, 51, 10))
ax.tick_params(axis="y", length=0, labelsize=9, pad=7)
two_rows(ax, range(0, 24, 2), range(1, 24, 2), pad=8, gap=15, size=9, fmt=lambda v: f"{v:02d}:00")
white(93, 4427, 432, 4435)
text(258, 4406, "Wokingham,  10 July 2015", size=13.5)
text(571, 4395, "Wind speed, 10 min mean / max gust", size=10)
text(571, 4413, "Speeds below 4 kt shown at x10 scale", size=10)
shadow_box(726, 4389, 951, 4415)
key_line(756, 766, 4402, color="black", lw=2.0)
text(777, 4402, "Speed x 1", size=8, ha="left")
fig.add_artist(Line2D([850 / W], [1 - 4402 / H], transform=fig.transFigure, ls="none", marker="D",
                      ms=5, mfc="#c8c8c8", mec="#404040", mew=0.6, zorder=9))
text(862, 4402, "Speed / 10", size=8, ha="left")
ylab(41, 4625, "Speed (knots)")
text(518, 4874, "Time (GMT)", size=10)

fig.savefig("out.png", dpi=100)
